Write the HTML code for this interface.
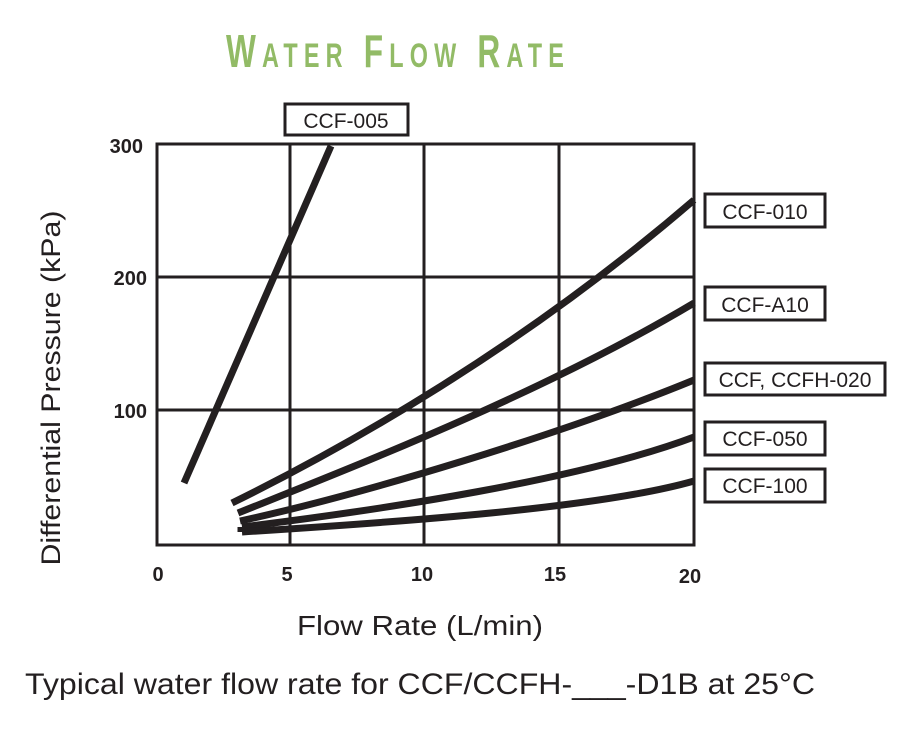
<!DOCTYPE html>
<html><head><meta charset="utf-8"><style>
html,body{margin:0;padding:0;background:#fff;}
svg{display:block;}
</style></head><body>
<svg width="902" height="735" viewBox="0 0 902 735" xmlns="http://www.w3.org/2000/svg" font-family="Liberation Sans, sans-serif">
<text x="226" y="67" fill="#92bb66" font-weight="bold" font-size="46" letter-spacing="9" textLength="344" lengthAdjust="spacingAndGlyphs">W<tspan font-size="34">ATER</tspan> F<tspan font-size="34">LOW</tspan> R<tspan font-size="34">ATE</tspan></text>
<g stroke="#231f20" stroke-width="3" fill="none">
<rect x="157" y="144" width="537" height="401"/>
<line x1="290" y1="144" x2="290" y2="545"/>
<line x1="424" y1="144" x2="424" y2="545"/>
<line x1="559" y1="144" x2="559" y2="545"/>
<line x1="157" y1="277" x2="694" y2="277"/>
<line x1="157" y1="410" x2="694" y2="410"/>
</g>
<g stroke="#231f20" stroke-width="7" fill="none" stroke-linejoin="round">
<line x1="184" y1="483" x2="331" y2="146"/>
<path d="M232,503 C340,450 520,350 694,200"/>
<path d="M238,513 C345,470 540,395 694,303"/>
<path d="M240,521 C360,495 560,435 694,380"/>
<path d="M242,527 C380,510 580,480 694,437"/>
<path d="M242,532 C400,522 600,508 694,481"/>
<path d="M242,527 L242,532" stroke-width="9"/>
</g>
<g fill="#fff" stroke="#231f20" stroke-width="3">
<rect x="285" y="104" width="123" height="31"/>
<rect x="705" y="194" width="120" height="33"/>
<rect x="705" y="287" width="120" height="33"/>
<rect x="705" y="363" width="180" height="32"/>
<rect x="705" y="422" width="120" height="33"/>
<rect x="705" y="469" width="120" height="33"/>
</g>
<g fill="#231f20" font-size="21" text-anchor="middle">
<text x="346" y="128">CCF-005</text>
<text x="765" y="219">CCF-010</text>
<text x="765" y="312">CCF-A10</text>
<text x="795" y="387">CCF, CCFH-020</text>
<text x="765" y="446">CCF-050</text>
<text x="765" y="493">CCF-100</text>
</g>
<g fill="#231f20" font-size="20" font-weight="bold" text-anchor="end">
<text x="143" y="153">300</text>
<text x="147" y="285">200</text>
<text x="147" y="418">100</text>
</g>
<g fill="#231f20" font-size="20" font-weight="bold" text-anchor="middle">
<text x="158" y="581">0</text>
<text x="287" y="581">5</text>
<text x="422" y="581">10</text>
<text x="555" y="581">15</text>
<text x="690" y="583">20</text>
</g>
<text transform="translate(60,388) rotate(-90)" text-anchor="middle" font-size="27" fill="#231f20" textLength="355" lengthAdjust="spacingAndGlyphs">Differential Pressure (kPa)</text>
<text x="297" y="635" font-size="28" fill="#231f20" textLength="246" lengthAdjust="spacingAndGlyphs">Flow Rate (L/min)</text>
<text x="25" y="694" font-size="30" fill="#231f20" textLength="790" lengthAdjust="spacingAndGlyphs">Typical water flow rate for CCF/CCFH-___-D1B at 25°C</text>
</svg>
</body></html>
